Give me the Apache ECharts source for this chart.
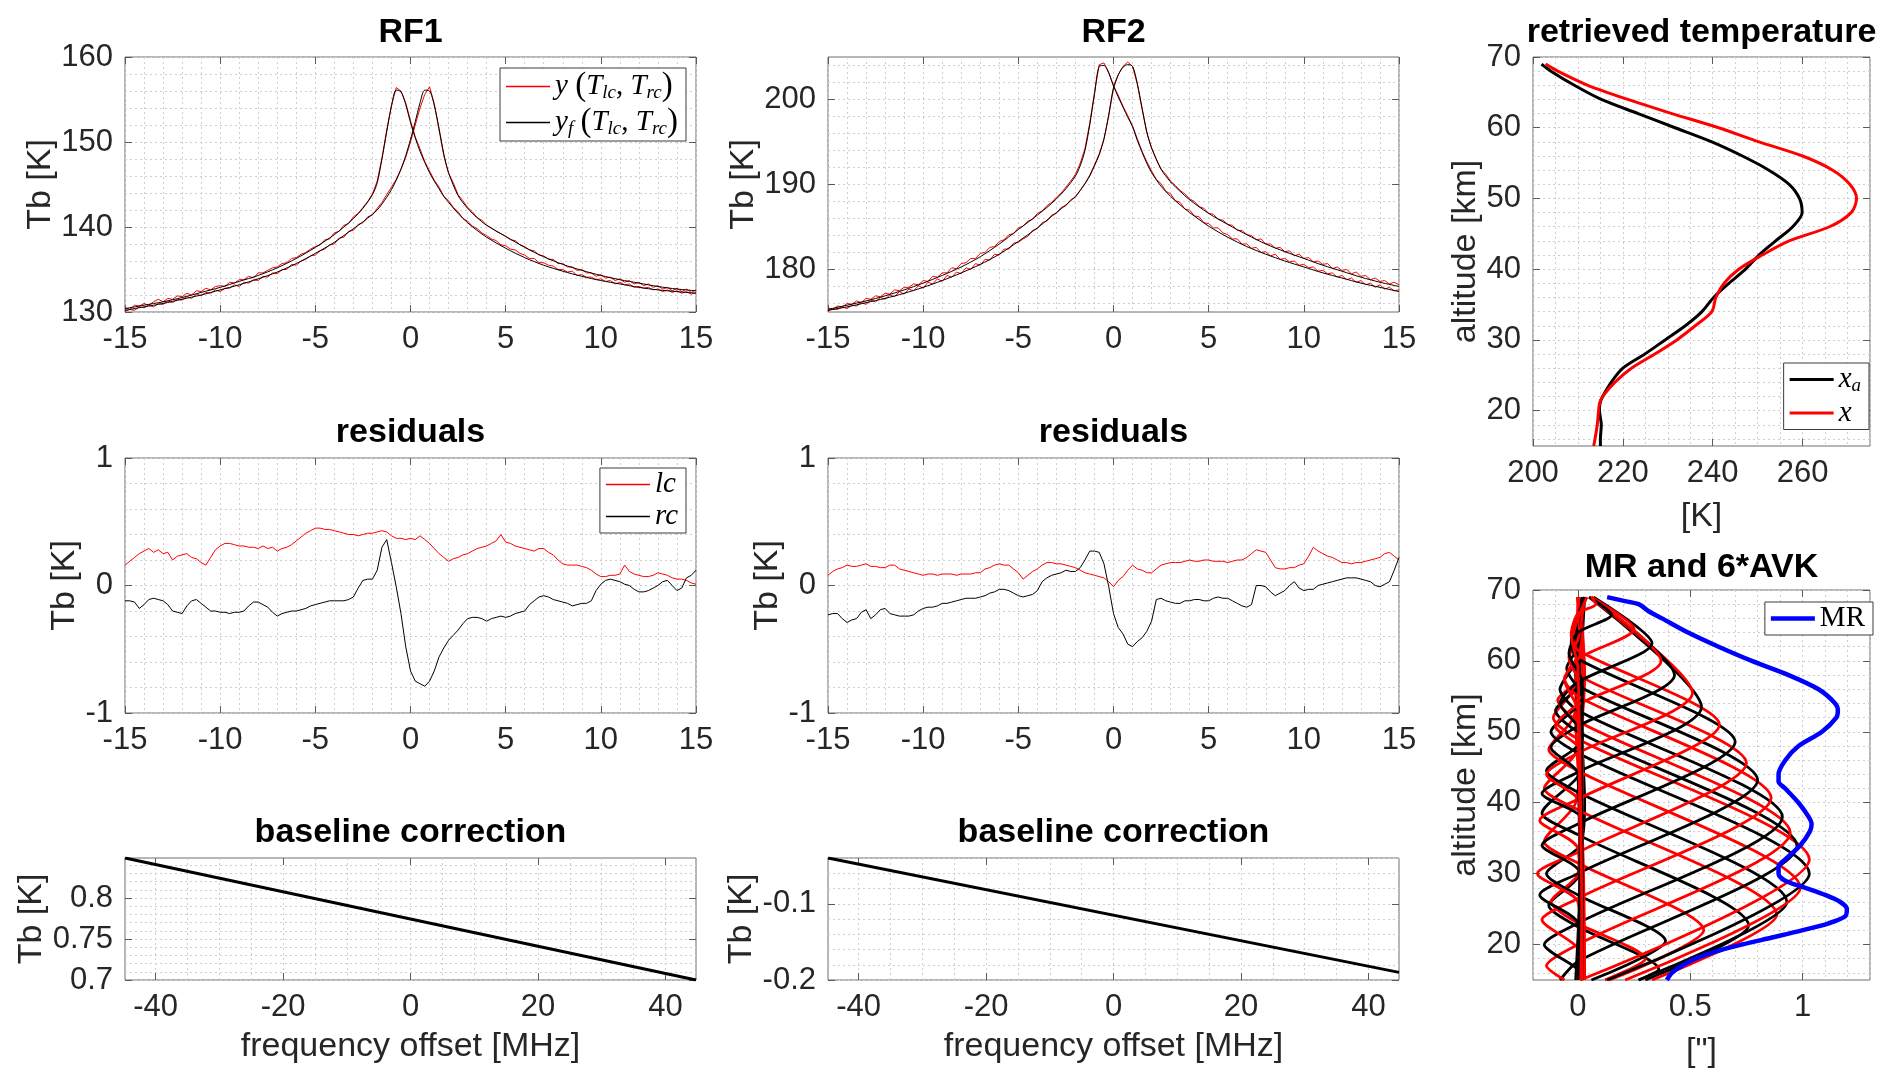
<!DOCTYPE html>
<html>
<head>
<meta charset="utf-8">
<title>RF1 / RF2 fit, residuals, baseline, temperature and AVK</title>
<script src="https://cdn.jsdelivr.net/npm/echarts@6.0.0/dist/echarts.min.js"></script>
<style>
  html, body { margin: 0; padding: 0; background: #fff; }
  #chart { width: 1892px; height: 1086px; }
</style>
</head>
<body>
<div id="chart"></div>
<script>
// spectra channels [MHz] (0.25 MHz steps)
var freq = [-15,-14.75,-14.5,-14.25,-14,-13.75,-13.5,-13.25,-13,-12.75,-12.5,-12.25,-12,-11.75,-11.5,-11.25,-11,-10.75,-10.5,-10.25,
  -10,-9.75,-9.5,-9.25,-9,-8.75,-8.5,-8.25,-8,-7.75,-7.5,-7.25,-7,-6.75,-6.5,-6.25,-6,-5.75,-5.5,-5.25,
  -5,-4.75,-4.5,-4.25,-4,-3.75,-3.5,-3.25,-3,-2.75,-2.5,-2.25,-2,-1.75,-1.5,-1.25,-1,-0.75,-0.5,-0.25,
  0,0.25,0.5,0.75,1,1.25,1.5,1.75,2,2.25,2.5,2.75,3,3.25,3.5,3.75,4,4.25,4.5,4.75,
  5,5.25,5.5,5.75,6,6.25,6.5,6.75,7,7.25,7.5,7.75,8,8.25,8.5,8.75,9,9.25,9.5,9.75,
  10,10.25,10.5,10.75,11,11.25,11.5,11.75,12,12.25,12.5,12.75,13,13.25,13.5,13.75,14,14.25,14.5,14.75,15];

// measured spectra y (lc / rc)
var rf1MeasLc = [130.5,130.3,130.8,130.7,131.0,130.8,131.2,131.5,131.2,131.6,131.5,131.9,131.8,132.2,132.0,132.5,132.4,132.8,132.6,133.0,
  133.1,133.0,133.5,133.4,133.8,133.8,134.2,134.0,134.6,134.6,134.9,135.2,135.3,135.7,135.8,136.3,136.4,136.8,137.0,137.4,
  137.7,137.9,138.5,138.6,139.3,139.5,140.2,140.4,141.2,141.6,142.3,143.0,143.9,145.4,148.1,151.4,154.3,156.4,156.0,154.6,
  152.5,150.6,149.2,147.7,146.6,145.5,144.7,143.6,143.1,142.3,141.8,141.0,140.7,140.1,139.8,139.3,139.0,138.6,138.4,137.9,
  137.8,137.4,137.3,136.9,136.7,136.3,136.3,135.8,135.8,135.5,135.4,135.0,135.0,134.7,134.8,134.3,134.4,134.1,134.1,133.8,
  133.9,133.6,133.7,133.3,133.5,133.2,133.3,132.9,133.0,132.8,132.9,132.6,132.7,132.4,132.6,132.3,132.5,132.2,132.4,132.1,132.3];
var rf1MeasRc = [130.1,130.3,130.2,130.6,130.5,130.8,130.6,131.0,130.9,131.3,131.1,131.5,131.4,131.8,131.6,132.1,131.9,132.3,132.2,132.6,
  132.4,132.8,132.8,133.2,133.0,133.5,133.4,133.8,133.7,134.2,134.1,134.6,134.5,135.0,135.0,135.6,135.5,136.0,136.2,136.6,
  136.7,137.2,137.4,137.9,138.0,138.7,138.8,139.5,139.6,140.3,140.5,141.2,141.4,142.2,142.9,143.8,144.7,145.6,146.8,148.2,
  150.0,152.0,154.0,155.6,156.5,154.5,151.4,148.4,146.3,145.2,143.8,143.1,142.3,141.8,141.1,140.8,140.2,139.9,139.5,139.2,
  138.9,138.5,138.4,137.9,137.7,137.3,137.2,136.7,136.6,136.2,136.2,135.7,135.7,135.3,135.3,134.9,135.0,134.6,134.6,134.2,
  134.4,134.0,134.1,133.7,133.9,133.5,133.7,133.3,133.5,133.1,133.3,132.9,133.1,132.7,132.9,132.5,132.8,132.4,132.7,132.3,132.6];
var rf2MeasLc = [175.5,175.3,175.7,175.6,176.0,175.9,176.3,176.1,176.6,176.5,176.9,176.8,177.2,177.1,177.6,177.5,177.9,177.9,178.3,178.2,
  178.7,178.6,179.2,179.1,179.6,179.6,180.2,180.1,180.7,180.8,181.3,181.3,181.9,182.0,182.6,182.7,183.3,183.5,184.1,184.2,
  184.9,185.1,185.7,185.9,186.6,186.9,187.5,187.9,188.5,189.0,189.7,190.4,191.2,192.5,194.2,197.2,200.8,204.1,204.3,203.2,
  201.6,200.5,199.2,198.1,196.9,195.4,193.9,192.7,191.6,190.6,190.1,189.2,188.9,188.1,187.9,187.1,187.0,186.3,186.2,185.5,
  185.4,184.9,184.9,184.3,184.1,183.6,183.6,183.0,183.0,182.5,182.6,182.0,182.1,181.6,181.8,181.2,181.3,180.9,181.0,180.5,
  180.6,180.2,180.3,179.8,179.9,179.5,179.6,179.1,179.3,178.8,179.0,178.5,178.7,178.2,178.4,177.9,178.2,177.7,177.9,177.5,177.6];
var rf2MeasRc = [175.1,175.4,175.3,175.6,175.4,175.8,175.7,176.1,175.9,176.4,176.2,176.7,176.5,177.0,176.8,177.4,177.1,177.7,177.5,178.1,
  177.8,178.5,178.3,178.9,178.6,179.3,179.1,179.7,179.5,180.2,180.0,180.7,180.5,181.2,181.1,181.8,181.7,182.4,182.4,183.1,
  183.2,183.6,183.9,184.6,184.8,185.5,185.7,186.4,186.6,187.3,187.5,188.2,188.5,189.3,190.1,191.1,192.3,193.6,195.3,198.1,
  201.3,202.9,203.9,204.4,203.9,201.8,198.9,196.1,194.3,193.0,191.8,191.2,190.4,189.9,189.3,188.9,188.3,188.0,187.4,187.2,
  186.6,186.5,185.9,185.8,185.3,185.2,184.6,184.6,184.1,184.0,183.5,183.6,183.0,183.0,182.5,182.6,182.1,182.2,181.6,181.8,
  181.3,181.4,180.9,181.0,180.6,180.7,180.1,180.3,179.9,180.0,179.5,179.7,179.2,179.3,178.8,179.0,178.6,178.7,178.3,178.5,178.2];

// fitted spectra y_f
var fitFreq = [-15,-14,-13,-12,-11,-10,-9,-8,-7,-6,-5,-4,-3.5,-3,-2.5,-2,-1.75,-1.5,-1.25,-1,-0.75,-0.5,-0.25,
  0,0.25,0.5,0.75,1,1.25,1.5,1.75,2,2.5,3,3.5,4,5,6,7,8,9,10,11,12,13,14,15];
var rf1FitLc = [130.4,130.8,131.2,131.7,132.3,132.9,133.6,134.3,135.2,136.3,137.6,139.1,140.0,141.0,142.2,143.8,145.2,148.0,151.2,154.2,156.1,155.9,154.4,
  152.3,150.5,148.9,147.6,146.4,145.4,144.5,143.6,142.9,141.6,140.5,139.6,138.8,137.5,136.4,135.5,134.8,134.2,133.7,133.3,132.9,132.6,132.4,132.2];
var rf1FitRc = [130.2,130.6,131.0,131.5,132.0,132.6,133.2,133.9,134.7,135.7,136.9,138.2,139.0,139.8,140.6,141.5,142.0,142.7,143.5,144.4,145.5,146.8,148.4,
  150.3,152.4,154.6,156.1,156.0,154.3,151.6,148.6,146.4,143.7,142.2,141.1,140.2,138.9,137.6,136.5,135.6,134.9,134.3,133.8,133.4,133.0,132.7,132.5];
var rf2FitLc = [175.3,175.8,176.3,176.9,177.6,178.4,179.3,180.3,181.5,183.0,184.7,186.4,187.3,188.3,189.5,191.0,192.2,194.0,197.0,200.6,203.9,204.0,203.1,
  201.6,200.3,199.1,197.9,196.8,195.2,193.8,192.5,191.4,189.8,188.6,187.6,186.7,185.1,183.8,182.7,181.8,181.0,180.3,179.6,179.0,178.4,177.9,177.4];
var rf2FitRc = [175.2,175.6,176.1,176.6,177.2,177.9,178.7,179.6,180.6,181.8,183.3,184.9,185.8,186.7,187.6,188.6,189.3,190.1,191.0,192.2,193.5,195.4,198.2,
  201.4,202.9,203.8,204.1,203.9,201.9,199.0,196.2,194.3,191.8,190.3,189.2,188.2,186.6,185.3,184.1,183.0,182.1,181.3,180.5,179.8,179.1,178.5,178.0];

// residuals [K]
var res1Lc = [0.16,0.19,0.22,0.25,0.27,0.29,0.26,0.28,0.25,0.26,0.2,0.23,0.24,0.25,0.22,0.21,0.18,0.16,0.22,0.28,
  0.31,0.33,0.33,0.32,0.31,0.31,0.3,0.3,0.29,0.31,0.29,0.3,0.27,0.29,0.3,0.32,0.35,0.38,0.41,0.43,
  0.45,0.45,0.44,0.44,0.43,0.42,0.41,0.4,0.4,0.39,0.4,0.41,0.41,0.42,0.43,0.42,0.39,0.37,0.37,0.36,
  0.37,0.36,0.39,0.36,0.33,0.29,0.25,0.22,0.19,0.21,0.22,0.24,0.25,0.27,0.29,0.3,0.31,0.33,0.35,0.4,
  0.34,0.33,0.31,0.3,0.29,0.28,0.27,0.29,0.29,0.26,0.24,0.2,0.17,0.16,0.16,0.16,0.15,0.14,0.12,0.09,
  0.07,0.07,0.08,0.08,0.09,0.16,0.11,0.09,0.08,0.07,0.07,0.08,0.1,0.09,0.08,0.06,0.05,0.05,0.04,0.02,0.01];
var res1Rc = [-0.12,-0.12,-0.13,-0.18,-0.15,-0.11,-0.1,-0.11,-0.12,-0.15,-0.2,-0.21,-0.22,-0.16,-0.12,-0.11,-0.14,-0.17,-0.2,-0.2,
  -0.21,-0.21,-0.22,-0.21,-0.21,-0.2,-0.16,-0.13,-0.13,-0.15,-0.17,-0.21,-0.24,-0.22,-0.21,-0.2,-0.2,-0.19,-0.18,-0.16,
  -0.15,-0.14,-0.13,-0.12,-0.12,-0.12,-0.12,-0.11,-0.09,-0.02,0.04,0.05,0.05,0.12,0.3,0.36,0.18,-0.01,-0.22,-0.48,
  -0.67,-0.75,-0.77,-0.79,-0.75,-0.67,-0.56,-0.49,-0.43,-0.39,-0.35,-0.3,-0.26,-0.25,-0.25,-0.26,-0.28,-0.26,-0.25,-0.24,
  -0.25,-0.24,-0.22,-0.21,-0.2,-0.15,-0.12,-0.09,-0.08,-0.09,-0.11,-0.12,-0.13,-0.14,-0.16,-0.15,-0.14,-0.14,-0.12,-0.04,
  0.01,0.04,0.05,0.04,0.03,0.01,0.0,-0.03,-0.05,-0.05,-0.04,-0.02,0.0,0.03,0.04,0.0,-0.04,-0.02,0.06,0.08,0.12];
var res2Lc = [0.08,0.11,0.13,0.14,0.16,0.15,0.15,0.16,0.17,0.15,0.15,0.14,0.14,0.16,0.16,0.13,0.12,0.11,0.1,0.09,
  0.08,0.09,0.09,0.08,0.09,0.09,0.09,0.08,0.09,0.09,0.09,0.1,0.1,0.13,0.14,0.16,0.17,0.16,0.16,0.13,
  0.1,0.05,0.08,0.11,0.13,0.16,0.18,0.18,0.17,0.17,0.16,0.15,0.14,0.12,0.1,0.09,0.08,0.07,0.06,0.03,
  -0.01,0.04,0.07,0.12,0.16,0.13,0.12,0.1,0.1,0.13,0.16,0.17,0.18,0.18,0.18,0.19,0.2,0.19,0.19,0.2,
  0.2,0.19,0.19,0.19,0.18,0.19,0.2,0.2,0.22,0.25,0.28,0.27,0.26,0.2,0.14,0.13,0.13,0.14,0.14,0.16,
  0.17,0.23,0.3,0.27,0.25,0.23,0.22,0.2,0.18,0.18,0.17,0.18,0.18,0.19,0.2,0.21,0.22,0.25,0.26,0.23,0.2];
var res2Rc = [-0.23,-0.22,-0.22,-0.26,-0.29,-0.27,-0.26,-0.21,-0.19,-0.26,-0.23,-0.19,-0.18,-0.22,-0.23,-0.24,-0.24,-0.24,-0.23,-0.2,
  -0.18,-0.17,-0.17,-0.16,-0.14,-0.14,-0.13,-0.12,-0.11,-0.1,-0.1,-0.1,-0.09,-0.08,-0.06,-0.05,-0.03,-0.03,-0.04,-0.06,
  -0.08,-0.09,-0.08,-0.07,-0.04,0.03,0.06,0.08,0.09,0.1,0.12,0.11,0.11,0.14,0.2,0.27,0.27,0.26,0.17,-0.01,
  -0.22,-0.33,-0.38,-0.46,-0.48,-0.44,-0.41,-0.36,-0.28,-0.11,-0.1,-0.12,-0.13,-0.14,-0.14,-0.12,-0.12,-0.11,-0.11,-0.12,
  -0.12,-0.1,-0.09,-0.1,-0.1,-0.12,-0.14,-0.16,-0.17,-0.15,0.0,0.0,-0.01,-0.05,-0.08,-0.06,-0.04,0.0,0.03,-0.02,
  -0.04,-0.03,-0.03,0.0,0.01,0.02,0.03,0.04,0.05,0.06,0.06,0.06,0.05,0.04,0.03,0.0,-0.01,0.01,0.03,0.12,0.22];

// baseline correction (straight line over the full band)
var baseFreq = [-44.8, 44.8];
var base1 = [0.849, 0.7];
var base2 = [-0.04, -0.19];

// temperature profiles
var tempAlt = [69,68,66,64,62,60,58,56,54,52,50,48,46,44,42,40,38,36,34,32,30,28,26,24,22,21,20,18,16,15];
var tempXa = [201.9,204.0,209.2,215.2,223.4,231.6,239.8,246.6,252.5,257.0,259.3,259.9,257.8,254.0,250.3,247.3,243.6,240.2,237.6,233.9,
  229.4,224.9,220.0,217.4,215.5,214.9,214.8,215.2,215.0,215.0];
var tempX = [202.8,205.5,212.2,221.1,230.9,241.3,250.3,260.0,266.7,270.5,272.0,270.8,266.0,257.0,251.0,245.8,242.5,240.7,239.8,236.1,
  232.0,227.1,221.9,218.2,215.5,214.8,214.6,214.3,213.8,213.5];

// measurement response
var mrAlt = [69,68.5,68,67,66,64,62,60,58,56,54,53,52,50,48,46,44,43,42,40,38,37,36,34,32,31,30,29,28,27,26,25,24,23,22,21,20,19,18,17,16,15];
var mr = [0.13,0.2,0.27,0.315,0.374,0.49,0.626,0.774,0.938,1.071,1.145,1.157,1.15,1.086,0.982,0.923,0.893,0.893,0.923,0.982,1.027,
  1.04,1.033,0.99,0.923,0.893,0.893,0.923,1.012,1.1,1.168,1.197,1.19,1.116,0.997,0.864,0.73,0.611,0.522,0.463,0.418,0.396];

// 6*AVK rows, [value, altitude km], lowest kernel first
var avkKernels = [
  [[0.02,69],[0.01,50],[0.02,36],[0.0,29.5],[-0.13,25.5],[0.0,22.5],[0.36,16.5],[0.27,15]],
  [[0.0,69],[-0.01,52],[0.01,38],[0.0,30],[-0.12,26],[0.0,23],[0.30,18],[0.12,15]],
  [[0.03,69],[0.01,55],[0.03,40],[0.01,34],[-0.14,30],[0.0,27],[0.39,20.5],[0.06,15]],
  [[0.0,69],[0.02,56],[-0.01,40],[-0.15,34.5],[0.0,31.5],[0.56,22],[0.14,15]],
  [[0.02,69],[-0.01,58],[0.02,45],[-0.16,38.5],[0.0,35.5],[0.76,22.7],[0.30,15]],
  [[0.01,69],[0.03,58],[-0.01,47],[-0.15,42],[0.0,39],[0.885,24.2],[0.33,15]],
  [[0.03,69],[0.0,60],[0.02,49],[-0.14,44.5],[0.0,41.5],[0.93,26],[0.27,15]],
  [[0.0,69],[0.02,62],[-0.02,52],[-0.13,47.5],[0.0,44.5],[0.99,28],[0.21,15]],
  [[0.02,69],[-0.01,63],[0.01,54.5],[-0.12,50],[0.0,47],[1.03,30],[0.13,15]],
  [[0.0,69],[0.01,64],[-0.02,56],[-0.11,52],[0.0,49],[1.03,32],[0.01,15]],
  [[0.03,69],[0.0,65],[0.01,57],[-0.1,53],[0.0,50],[0.975,33.9],[0.0,17.6],[-0.08,15]],
  [[0.0,69],[0.02,58],[-0.09,54.5],[0.0,51.5],[0.945,35.8],[0.0,20],[-0.14,17],[-0.06,15]],
  [[0.02,69],[-0.01,60],[-0.08,56],[0.0,53],[0.91,38],[0.0,23],[-0.15,20],[0.0,16.5],[0.02,15]],
  [[0.0,69],[0.01,61],[-0.06,57.5],[0.0,55],[0.86,40.7],[0.0,26.5],[-0.16,23.5],[0.0,19.5],[0.03,15]],
  [[0.02,69],[0.0,62],[-0.05,59],[0.0,56.5],[0.80,43.2],[0.0,30],[-0.17,27],[0.0,23],[0.01,15]],
  [[0.03,69],[0.0,63],[-0.04,60.5],[0.0,58],[0.75,45.6],[0.0,33],[-0.18,30],[0.0,26],[0.02,15]],
  [[0.03,69],[-0.03,62.5],[0.0,60.3],[0.70,48.6],[0.0,37],[-0.16,34],[0.01,30],[-0.01,15]],
  [[0.04,69],[-0.02,63.5],[0.0,61.5],[0.63,51],[0.0,40.5],[-0.17,37.5],[0.0,33.5],[0.02,15]],
  [[0.05,69],[0.55,53.5],[0.0,44.3],[-0.16,41.3],[0.02,37.5],[0.0,15]],
  [[0.05,69],[0.51,55.5],[0.0,47],[-0.14,44],[0.01,40],[0.03,15]],
  [[0.06,69],[0.43,58],[0.0,50.8],[-0.12,47.8],[0.0,44],[0.01,15]],
  [[0.06,69],[0.37,60],[0.0,53.8],[-0.1,50.8],[0.02,47],[0.0,15]],
  [[0.07,69],[0.33,62.5],[0.0,57],[-0.08,54],[0.01,50],[0.02,15]],
  [[0.06,69],[0.25,64.5],[0.0,60.3],[-0.06,57.3],[0.0,53],[0.01,15]],
  [[0.05,69],[0.15,66.5],[0.0,64],[-0.04,61],[0.02,57],[0.0,15]],
  [[0.06,69],[0.08,68],[0.0,66.7],[-0.03,63.7],[0.0,59],[0.02,15]]
];

// tick labels
var rfFreqTicks = [-15, -10, -5, 0, 5, 10, 15];
var rf1Ticks = [130, 140, 150, 160];
var rf2Ticks = [180, 190, 200];
var resTicks = [-1, 0, 1];
var baseFreqTicks = [-40, -20, 0, 20, 40];
var base1Ticks = [0.7, 0.75, 0.8];
var base2Ticks = [-0.2, -0.1];
var tempTicks = [200, 220, 240, 260];
var altTicks = [20, 30, 40, 50, 60, 70];
var avkTicks = [0, 0.5, 1];

var SANS = "'Liberation Sans', Arial, Helvetica, sans-serif";
var SERIF = "'Liberation Serif', 'DejaVu Serif', serif";
var RED = '#ff0000', BLACK = '#000000', BLUE = '#0000ff';
var TICK = { color: '#5a5a5a', width: 1 };

// grid line positions (major + minor), like MATLAB "grid minor"
function steps(a, b, step) {
    var out = [];
    for (var i = 0; a + i * step <= b + step * 1e-6; i++) {
        out.push(Math.round((a + i * step) * 1e4) / 1e4);
    }
    return out;
}

function zip(xs, ys) {
    return xs.map(function (x, i) { return [x, ys[i]]; });
}

function fmt(v) {
    return String(Math.round(v * 1000) / 1000);
}

// axis with the tick labels and inward ticks
function valAxis(g, min, max, labels, extra) {
    var ax = {
        type: 'value',
        gridIndex: g,
        min: min,
        max: max,
        axisLine: { show: false, onZero: false },
        axisTick: { show: true, inside: true, length: 7, customValues: labels, lineStyle: TICK },
        axisLabel: {
            customValues: labels,
            formatter: fmt,
            color: '#262626',
            fontFamily: SANS,
            fontSize: 31,
            margin: 12
        },
        splitLine: { show: false },
        nameLocation: 'middle',
        nameTextStyle: { color: '#262626', fontFamily: SANS, fontSize: 34 }
    };
    for (var k in extra) ax[k] = extra[k];
    return ax;
}

// helper axes: dotted grid lines, and inward ticks on the opposite side of the box
function gridAxis(g, min, max, lines, position) {
    return {
        type: 'value', gridIndex: g, min: min, max: max, position: position,
        axisLine: { show: false, onZero: false },
        axisTick: { show: false, customValues: lines },
        axisLabel: { show: false },
        splitLine: { show: true, lineStyle: { color: '#cfcfcf', width: 1, type: [2, 3] } }
    };
}
function mirrorAxis(g, min, max, majors, position) {
    return {
        type: 'value', gridIndex: g, min: min, max: max, position: position,
        axisLine: { show: false, onZero: false },
        axisTick: { show: true, inside: true, length: 7, customValues: majors, lineStyle: TICK },
        axisLabel: { show: false },
        splitLine: { show: false }
    };
}

function line(name, idx, data, color, width, smooth, z) {
    return {
        type: 'line',
        name: name,
        xAxisIndex: idx,
        yAxisIndex: idx,
        data: data,
        symbol: 'none',
        smooth: smooth || false,
        silent: true,
        z: z || 2,
        lineStyle: { color: color, width: width },
        itemStyle: { color: color }
    };
}

var legendText = {
    rf1y: '{i|y}{n| }{p|(}{i|T}{s|lc}{n|, }{i|T}{s|rc}{p|)}',
    rf1yf: '{i|y}{s|f}{n| }{p|(}{i|T}{s|lc}{n|, }{i|T}{s|rc}{p|)}',
    lc: '{i|lc}',
    rc: '{i|rc}',
    xa: '{i|x}{s|a}',
    x: '{i|x}',
    MR: '{n|MR}'
};
var rich = {
    i: { fontFamily: SERIF, fontStyle: 'italic', fontSize: 29, color: '#000', lineHeight: 32 },
    s: { fontFamily: SERIF, fontStyle: 'italic', fontSize: 19, color: '#000', verticalAlign: 'bottom', lineHeight: 19 },
    p: { fontFamily: SERIF, fontSize: 33, color: '#000', lineHeight: 32 },
    n: { fontFamily: SERIF, fontSize: 29, color: '#000', lineHeight: 32 }
};

function legendBox(names, right, top, thick) {
    return {
        data: names,
        orient: 'vertical',
        right: right,
        top: top,
        icon: 'rect',
        backgroundColor: '#fff',
        borderColor: '#3c3c3c',
        borderWidth: 1,
        borderRadius: 0,
        padding: [2, 8, 2, 6],
        itemGap: 3,
        itemWidth: 44,
        itemHeight: thick,
        selectedMode: false,
        formatter: function (n) { return legendText[n]; },
        textStyle: { rich: rich }
    };
}

function title(text, cx, top) {
    return {
        text: text,
        left: cx,
        top: top,
        textAlign: 'center',
        padding: 0,
        textStyle: { fontFamily: SANS, fontWeight: 'bold', fontSize: 34, color: '#000' }
    };
}

var gridBox = { show: true, borderColor: '#6e6e6e', borderWidth: 1, backgroundColor: '#fff', outerBoundsMode: 'none' };
function grid(l, t, w, h) {
    return Object.assign({ left: l, top: t, width: w, height: h }, gridBox);
}

// per panel: x range, x labels, x grid lines, y range, y labels, y grid lines
var panels = [
    { x: [-15, 15], xt: rfFreqTicks, xl: steps(-15, 15, 1), y: [130, 160], yt: rf1Ticks, yl: steps(130, 160, 2) },
    { x: [-15, 15], xt: rfFreqTicks, xl: steps(-15, 15, 1), y: [175, 205], yt: rf2Ticks, yl: steps(176, 204, 2) },
    { x: [-15, 15], xt: rfFreqTicks, xl: steps(-15, 15, 1), y: [-1, 1], yt: resTicks, yl: steps(-1, 1, 0.2) },
    { x: [-15, 15], xt: rfFreqTicks, xl: steps(-15, 15, 1), y: [-1, 1], yt: resTicks, yl: steps(-1, 1, 0.2) },
    { x: [-44.8, 44.8], xt: baseFreqTicks, xl: steps(-40, 40, 5), y: [0.7, 0.849], yt: base1Ticks, yl: steps(0.7, 0.84, 0.01) },
    { x: [-44.8, 44.8], xt: baseFreqTicks, xl: steps(-40, 40, 5), y: [-0.2, -0.04], yt: base2Ticks, yl: steps(-0.2, -0.04, 0.02) },
    { x: [200, 275], xt: tempTicks, xl: steps(200, 275, 5), y: [15, 70], yt: altTicks, yl: steps(16, 70, 2) },
    { x: [-0.2, 1.3], xt: avkTicks, xl: steps(-0.2, 1.3, 0.1), y: [15, 70], yt: altTicks, yl: steps(16, 70, 2) }
];
var xNames = [{}, {}, {}, {},
    { name: 'frequency offset [MHz]', nameGap: 50 }, { name: 'frequency offset [MHz]', nameGap: 50 },
    { name: '[K]', nameGap: 54 }, { name: '["]', nameGap: 55 }];
var yNames = [
    { name: 'Tb [K]', nameGap: 66 }, { name: 'Tb [K]', nameGap: 65 },
    { name: 'Tb [K]', nameGap: 42 }, { name: 'Tb [K]', nameGap: 42 },
    { name: 'Tb [K]', nameGap: 76 }, { name: 'Tb [K]', nameGap: 63 },
    { name: 'altitude [km]', nameGap: 47 }, { name: 'altitude [km]', nameGap: 47 }];

var xAxes = [], yAxes = [];
panels.forEach(function (p, g) {
    xAxes.push(valAxis(g, p.x[0], p.x[1], p.xt, Object.assign({ position: 'bottom' }, xNames[g])));
    yAxes.push(valAxis(g, p.y[0], p.y[1], p.yt, Object.assign({ position: 'left' }, yNames[g])));
});
panels.forEach(function (p, g) {
    xAxes.push(gridAxis(g, p.x[0], p.x[1], p.xl, 'bottom'));
    xAxes.push(mirrorAxis(g, p.x[0], p.x[1], p.xt, 'top'));
    yAxes.push(gridAxis(g, p.y[0], p.y[1], p.yl, 'left'));
    yAxes.push(mirrorAxis(g, p.y[0], p.y[1], p.yt, 'right'));
});

var series = [];

// RF1 / RF2 spectra: measurement in red, fit in black on top
series.push(line('rf1y', 0, zip(freq, rf1MeasLc), RED, 1));
series.push(line('rf1y', 0, zip(freq, rf1MeasRc), RED, 1));
series.push(line('rf1yf', 0, zip(fitFreq, rf1FitLc), BLACK, 1, 0.3, 3));
series.push(line('rf1yf', 0, zip(fitFreq, rf1FitRc), BLACK, 1, 0.3, 3));
series.push(line('rf2y', 1, zip(freq, rf2MeasLc), RED, 1));
series.push(line('rf2y', 1, zip(freq, rf2MeasRc), RED, 1));
series.push(line('rf2yf', 1, zip(fitFreq, rf2FitLc), BLACK, 1, 0.3, 3));
series.push(line('rf2yf', 1, zip(fitFreq, rf2FitRc), BLACK, 1, 0.3, 3));

// residuals
series.push(line('lc', 2, zip(freq, res1Lc), RED, 1));
series.push(line('rc', 2, zip(freq, res1Rc), BLACK, 1));
series.push(line('lc2', 3, zip(freq, res2Lc), RED, 1));
series.push(line('rc2', 3, zip(freq, res2Rc), BLACK, 1));

// baseline corrections
series.push(line('base1', 4, zip(baseFreq, base1), BLACK, 3));
series.push(line('base2', 5, zip(baseFreq, base2), BLACK, 3));

// temperature
series.push(line('xa', 6, zip(tempXa, tempAlt), BLACK, 3, 0.3));
series.push(line('x', 6, zip(tempX, tempAlt), RED, 3, 0.3));

// averaging kernels, alternating black / red
avkKernels.forEach(function (k, i) {
    series.push(line('avk' + i, 7, k, i % 2 === 0 ? BLACK : RED, 2.8, 0.25));
});
series.push(line('MR', 7, zip(mr, mrAlt), BLUE, 4.5, 0.3, 5));

var option = {
    animation: false,
    backgroundColor: '#fff',
    title: [
        title('RF1', 410.5, 16),
        title('RF2', 1113.5, 16),
        title('residuals', 410.5, 416),
        title('residuals', 1113.5, 416),
        title('baseline correction', 410.5, 816),
        title('baseline correction', 1113.5, 816),
        title('retrieved temperature', 1701.5, 16),
        title('MR and 6*AVK', 1701.5, 551)
    ],
    legend: [
        legendBox(['rf1y', 'rf1yf'], 1206, 68, 1.5),
        legendBox(['lc', 'rc'], 1206, 468, 1.5),
        legendBox(['xa', 'x'], 23, 363, 3),
        legendBox(['MR'], 19, 602, 4.5)
    ],
    grid: [
        grid(125, 57, 571, 255),
        grid(828, 57, 571, 255),
        grid(125, 458, 571, 255),
        grid(828, 458, 571, 255),
        grid(125, 858, 571, 122),
        grid(828, 858, 571, 122),
        grid(1533, 57, 337, 389),
        grid(1533, 590, 337, 390)
    ],
    xAxis: xAxes,
    yAxis: yAxes,
    series: series
};

var myChart = echarts.init(document.getElementById('chart'));
myChart.setOption(option);
window.onresize = myChart.resize;
</script>
</body>
</html>
